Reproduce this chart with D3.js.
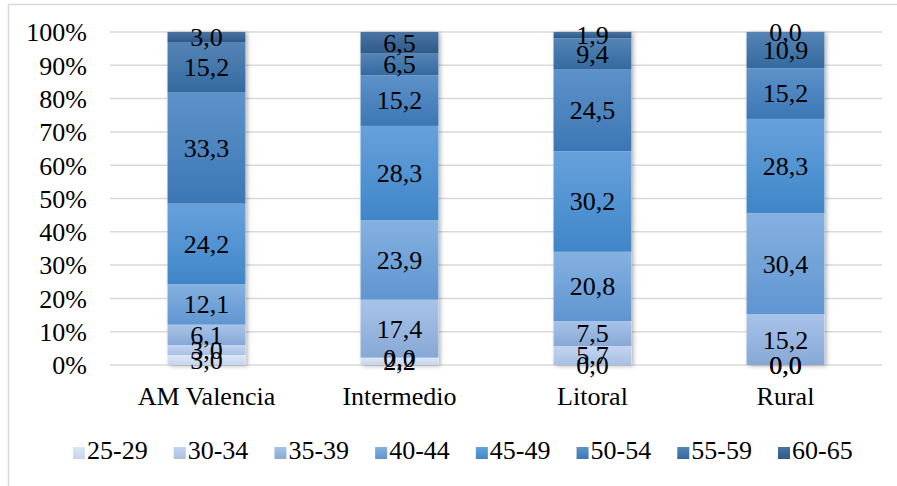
<!DOCTYPE html>
<html>
<head>
<meta charset="utf-8">
<script src="https://cdn.jsdelivr.net/npm/d3@7"></script>
<style>
  body { margin: 0; background: #fff; }
  svg { font-family: "Liberation Serif", "Times New Roman", serif; }
</style>
</head>
<body>
<div id="chart"></div>
<script>
// categories and age groups
var categories = ["AM Valencia", "Intermedio", "Litoral", "Rural"];
var ageGroups = ["25-29", "30-34", "35-39", "40-44", "45-49", "50-54", "55-59", "60-65"];

// percentage per age group, one value per category (same order as categories)
var v25_29 = [3.0, 2.2, 0.0, 0.0];
var v30_34 = [3.0, 0.0, 5.7, 0.0];
var v35_39 = [6.1, 17.4, 7.5, 15.2];
var v40_44 = [12.1, 23.9, 20.8, 30.4];
var v45_49 = [24.2, 28.3, 30.2, 28.3];
var v50_54 = [33.3, 15.2, 24.5, 15.2];
var v55_59 = [15.2, 6.5, 9.4, 10.9];
var v60_65 = [3.0, 6.5, 1.9, 0.0];

var yTicks = [0, 10, 20, 30, 40, 50, 60, 70, 80, 90, 100];

// top / bottom colours of each gradient
var colTop = ["#dce6f5", "#c3d4ef", "#a8c3e8", "#85b1e0", "#67a1dc", "#5e92c9", "#5584b6", "#4a73a2"];
var colBot = ["#c5d5ee", "#a9c0e4", "#87a8d6", "#5f95d0", "#3f86c8", "#3b77b5", "#336a9f", "#2d5a8a"];

var seriesValues = [v25_29, v30_34, v35_39, v40_44, v45_49, v50_54, v55_59, v60_65];

var width = 897, height = 486;
var margin = {left: 110, right: 15, top: 32, bottom: 121};
var fontSize = "26px";

var svg = d3.select("#chart").append("svg")
    .attr("width", width)
    .attr("height", height);

// outer frame
svg.append("path")
    .attr("d", "M8.5," + height + " V4.5 H" + width)
    .attr("fill", "none")
    .attr("stroke", "#d9d9d9")
    .attr("stroke-width", 1.5);

var defs = svg.append("defs");
ageGroups.forEach(function(g, i) {
    var lg = defs.append("linearGradient")
        .attr("id", "grad" + i)
        .attr("x1", 0).attr("y1", 0).attr("x2", 0).attr("y2", 1);
    lg.append("stop").attr("offset", "0%").attr("stop-color", colTop[i]);
    lg.append("stop").attr("offset", "100%").attr("stop-color", colBot[i]);
});
var shadow = defs.append("filter").attr("id", "shadow")
    .attr("x", "-20%").attr("y", "-5%").attr("width", "150%").attr("height", "115%");
shadow.append("feDropShadow")
    .attr("dx", 2).attr("dy", 1).attr("stdDeviation", 2)
    .attr("flood-color", "#000").attr("flood-opacity", 0.3);

var x = d3.scaleBand()
    .domain(categories)
    .range([margin.left, width - margin.right])
    .padding(0);

var y = d3.scaleLinear()
    .domain([0, 100])
    .range([height - margin.bottom, margin.top]);

var barW = x.bandwidth() * 0.404;

// gridlines
svg.append("g").selectAll("line")
    .data(yTicks)
    .enter().append("line")
    .attr("x1", margin.left)
    .attr("x2", width - margin.right)
    .attr("y1", function(d) { return y(d); })
    .attr("y2", function(d) { return y(d); })
    .attr("stroke", "#d9d9d9")
    .attr("stroke-width", 1.5);

// y axis
var yAxis = svg.append("g")
    .attr("transform", "translate(" + (margin.left - 23) + ",0)")
    .call(d3.axisLeft(y).tickValues(yTicks).tickFormat(function(d) { return d + "%"; }).tickSize(0));
yAxis.select(".domain").remove();
yAxis.selectAll("text")
    .attr("x", 0)
    .attr("dy", "0.34em")
    .style("font-family", "Liberation Serif")
    .style("font-size", fontSize)
    .attr("fill", "#000");

// stacked data
var table = categories.map(function(c, ci) {
    var row = {cat: c};
    ageGroups.forEach(function(g, gi) { row[g] = seriesValues[gi][ci]; });
    return row;
});
var stacked = d3.stack().keys(ageGroups).offset(d3.stackOffsetExpand)(table);

// one shadow per bar, drawn under the segments
svg.append("g")
    .selectAll("rect")
    .data(categories)
    .enter().append("rect")
    .attr("x", function(d) { return x(d) + (x.bandwidth() - barW) / 2; })
    .attr("width", barW)
    .attr("y", y(100))
    .attr("height", y(0) - y(100))
    .attr("fill", "#fff")
    .attr("filter", "url(#shadow)");

var layers = svg.append("g").selectAll("g")
    .data(stacked)
    .enter().append("g")
    .attr("fill", function(d, i) { return "url(#grad" + i + ")"; });

layers.selectAll("rect")
    .data(function(d) { return d; })
    .enter().append("rect")
    .attr("x", function(d) { return x(d.data.cat) + (x.bandwidth() - barW) / 2; })
    .attr("width", barW)
    .attr("y", function(d) { return y(d[1] * 100); })
    .attr("height", function(d) { return y(d[0] * 100) - y(d[1] * 100); });

// value labels
var fmt = function(v) { return v.toFixed(1).replace(".", ","); };
var labels = svg.append("g");
stacked.forEach(function(layer, li) {
    layer.forEach(function(d, ci) {
        labels.append("text")
            .attr("x", x(d.data.cat) + x.bandwidth() / 2)
            .attr("y", y((d[0] + d[1]) / 2 * 100))
            .attr("dy", "0.34em")
            .attr("text-anchor", "middle")
            .style("font-size", fontSize)
            .text(fmt(seriesValues[li][ci]));
    });
});

// category labels
svg.append("g").selectAll("text")
    .data(categories)
    .enter().append("text")
    .attr("x", function(d) { return x(d) + x.bandwidth() / 2; })
    .attr("y", 405)
    .attr("text-anchor", "middle")
    .style("font-size", fontSize)
    .text(function(d) { return d; });

// legend
var legX = d3.scalePoint().domain(ageGroups).range([73, 778]);
var leg = svg.append("g").selectAll("g")
    .data(ageGroups)
    .enter().append("g")
    .attr("transform", function(d) { return "translate(" + legX(d) + ",447)"; });
leg.append("rect")
    .attr("width", 12).attr("height", 12)
    .attr("fill", function(d, i) { return "url(#grad" + i + ")"; });
leg.append("text")
    .attr("x", 14)
    .attr("y", 12)
    .style("font-size", fontSize)
    .text(function(d) { return d; });
</script>
</body>
</html>
